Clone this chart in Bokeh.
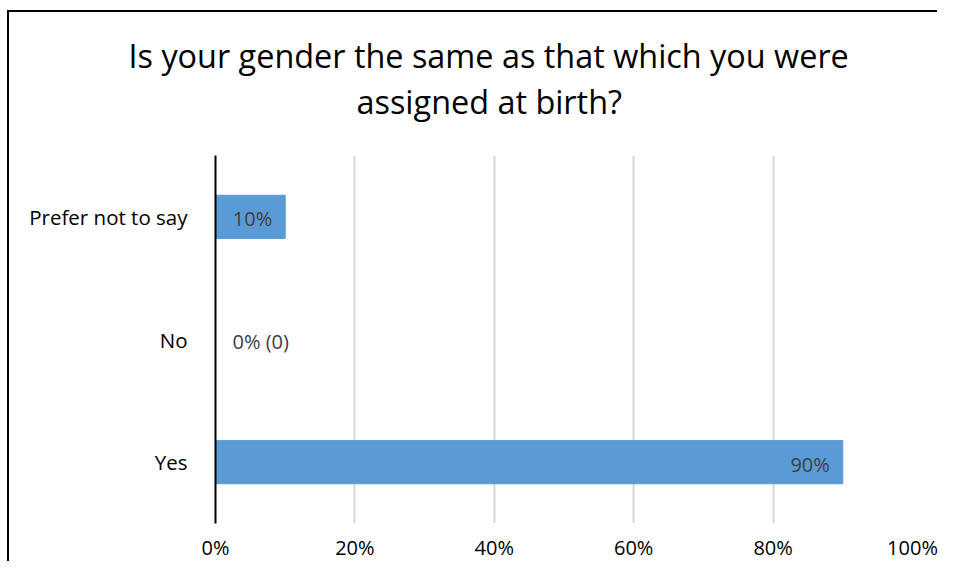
from bokeh.plotting import figure
from bokeh.layouts import column
from bokeh.models import NumeralTickFormatter, FixedTicker, ColumnDataSource, LabelSet, Title
from bokeh.core.properties import value
from bokeh.embed import file_html
from bokeh.resources import INLINE

categories = ["Yes", "No", "Prefer not to say"]
values = [0.90, 0.00, 0.10]
value_labels = ["90%", "0% (0)", "10%"]
x_ticks = [0, 0.2, 0.4, 0.6, 0.8, 1.0]
title_lines = ["Is your gender the same as that which you were", "assigned at birth?"]

FONT = "Open Sans"
W = 930
TITLE_H = 143
MAIN_H = 408
LEFT, RIGHT = 206, 27

# ---- title strip: an empty plot whose top panel holds the two title lines ----
t = figure(width=W, height=TITLE_H, x_range=(0, 1), y_range=(0, 1),
           output_backend="svg", toolbar_location=None, title=None,
           min_border_left=LEFT, min_border_right=RIGHT, min_border_top=110, min_border_bottom=0)
t.axis.visible = False
t.grid.visible = False
t.outline_line_color = None
t.add_layout(Title(text=title_lines[1], align="left", offset=141, standoff=0,
                   text_font=FONT, text_font_size="32.4px", text_font_style="normal",
                   text_color="#000000"), "above")
t.add_layout(Title(text=title_lines[0], align="left", offset=-87, standoff=0,
                   text_font=FONT, text_font_size="32.4px", text_font_style="normal",
                   text_color="#000000"), "above")

# ---- bar chart ----
p = figure(width=W, height=MAIN_H, y_range=categories, x_range=(0, 1.0),
           output_backend="svg", toolbar_location=None, title=None,
           min_border_left=LEFT, min_border_right=RIGHT, min_border_top=0, min_border_bottom=39)
p.outline_line_color = None

p.hbar(y=categories, right=values, height=0.352, left=0, color="#5b9bd5")

p.xaxis.ticker = FixedTicker(ticks=x_ticks)
p.xaxis.formatter = NumeralTickFormatter(format="0%")
p.xaxis.axis_line_color = None
p.xaxis.major_tick_line_color = None
p.xaxis.minor_tick_line_color = None
p.xaxis.major_tick_out = 0
p.xaxis.major_tick_in = 0
p.xaxis.minor_tick_out = 0
p.xaxis.major_label_text_font = FONT
p.xaxis.major_label_text_font_size = "20px"
p.xaxis.major_label_text_color = "#000000"
p.xaxis.major_label_standoff = 10

p.yaxis.axis_line_color = "#000000"
p.yaxis.axis_line_width = 2
p.yaxis.major_tick_line_color = None
p.yaxis.minor_tick_line_color = None
p.yaxis.major_label_text_font = FONT
p.yaxis.major_label_text_font_size = "20.5px"
p.yaxis.major_label_text_color = "#000000"
p.yaxis.major_label_standoff = 22

p.ygrid.grid_line_color = None
p.xgrid.grid_line_color = "#d9d9d9"
p.xgrid.grid_line_width = 2

# data labels
inside = [i for i, v in enumerate(values) if v > 0]
zero = [i for i, v in enumerate(values) if v == 0]
src_in = ColumnDataSource(dict(x=[values[i] for i in inside], y=[categories[i] for i in inside],
                               t=[value_labels[i] for i in inside]))
src_zero = ColumnDataSource(dict(x=[values[i] for i in zero], y=[categories[i] for i in zero],
                                 t=[value_labels[i] for i in zero]))
p.add_layout(LabelSet(x="x", y="y", text="t", source=src_in, x_offset=-13, y_offset=-2,
                      text_align="right", text_baseline="middle", text_font=value(FONT),
                      text_font_size="20px", text_color="#404040"))
p.add_layout(LabelSet(x="x", y="y", text="t", source=src_zero, x_offset=17, y_offset=-2,
                      text_align="left", text_baseline="middle", text_font=value(FONT),
                      text_font_size="20px", text_color="#404040"))

layout = column(t, p, spacing=0,
                styles={"margin-left": "9px", "margin-top": "12px",
                        "box-shadow": "-2px -2px 0px 0px #000000"})

open("out.html", "w").write(file_html(layout, INLINE))
